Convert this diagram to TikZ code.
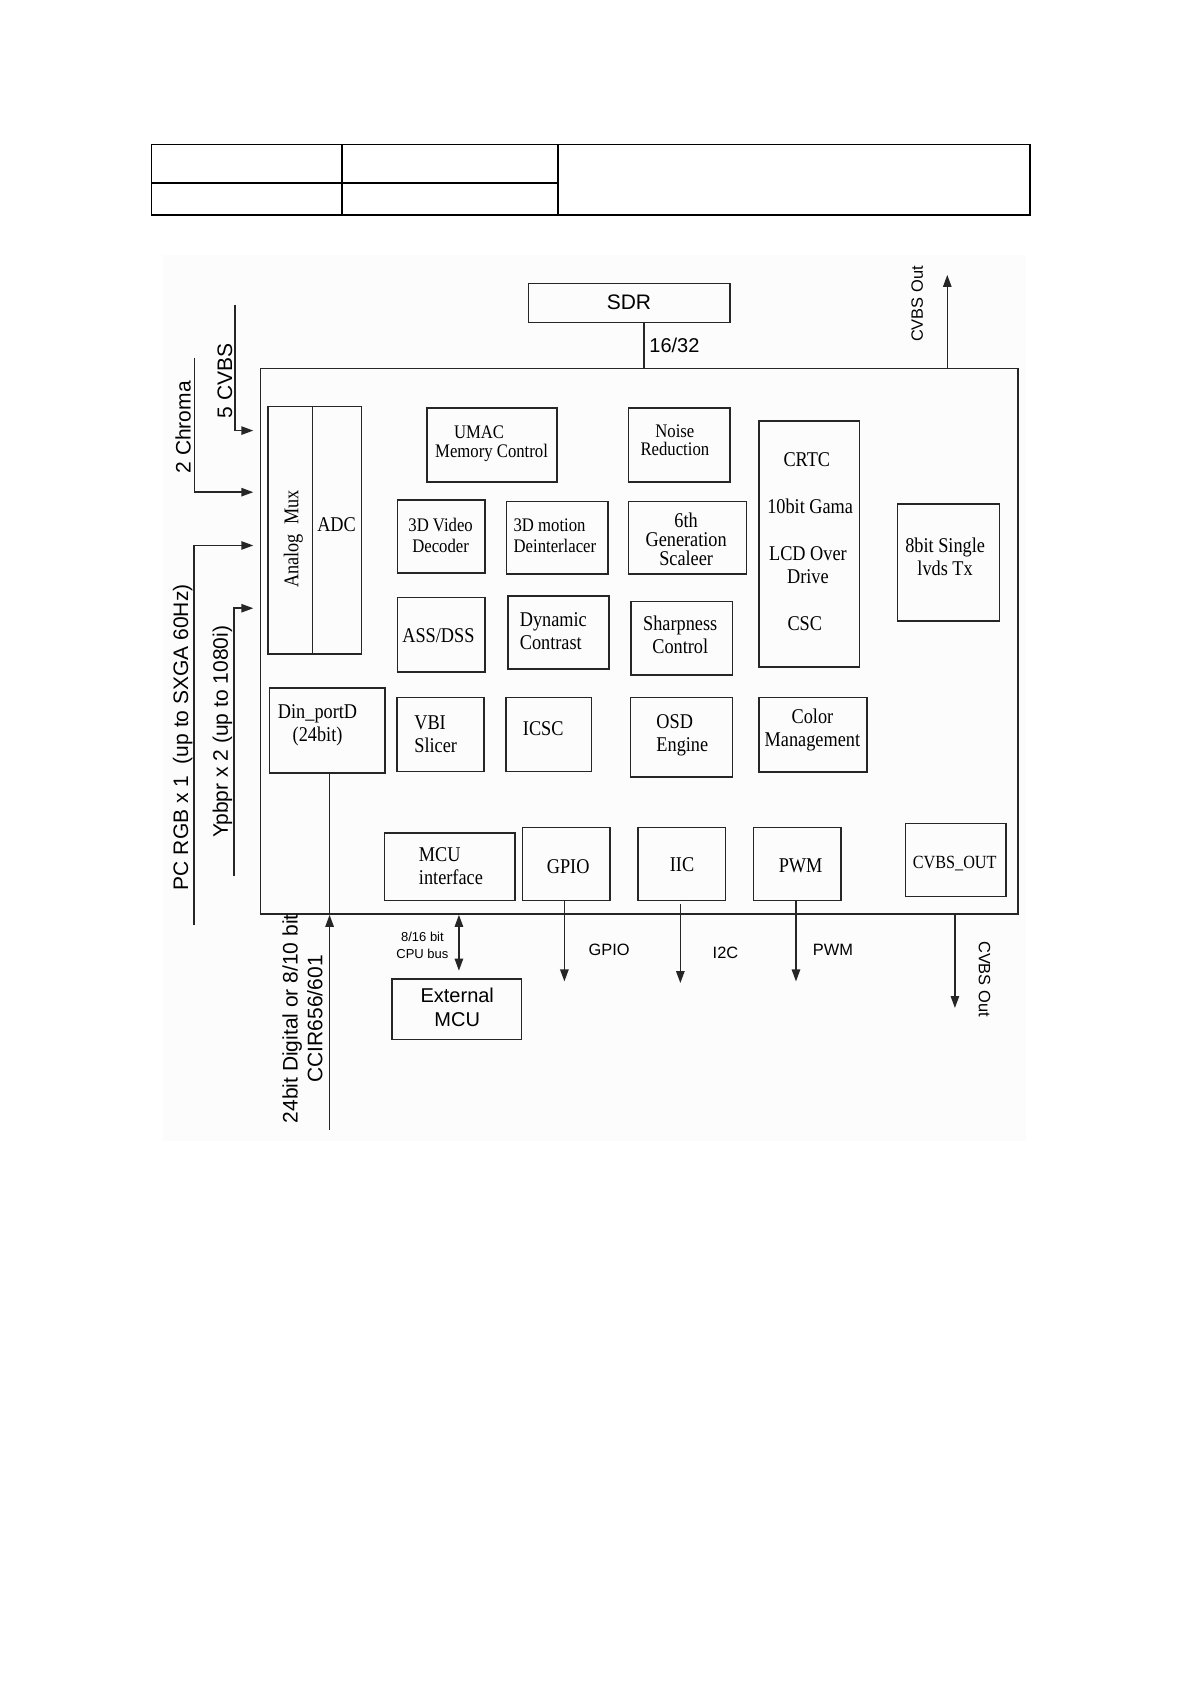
\documentclass[tikz,border=0pt]{standalone}
\usepackage{fontspec}
\setmainfont{Liberation Serif}
\newfontfamily\boxfont[FakeStretch=0.87]{Liberation Serif}
\newfontfamily\labfont{Liberation Sans}
\usetikzlibrary{arrows.meta,fit,calc}
\newcommand\mybox[5]{\node[box, fit={(#2,#3) (#4,#5)}] (#1) {};}
\begin{document}
\begin{tikzpicture}[x=0.5374pt,y=-0.5374pt,
  ln/.style={draw=black!85, line width=0.75pt},
  box/.style={ln, inner sep=0pt, rectangle},
  arr/.style={ln, -{Triangle[length=6pt,width=4.2pt]}},
  darr/.style={ln, {Triangle[length=6pt,width=4.2pt]}-{Triangle[length=6pt,width=4.2pt]}},
  tb/.style={inner sep=0pt, align=center, font=\boxfont\fontsize{10.5}{11.4}\selectfont},
  ts/.style={inner sep=0pt, align=center, font=\boxfont\fontsize{9.6}{10.3}\selectfont},
  sb/.style={inner sep=0pt, align=center, font=\labfont\fontsize{10.5}{12.4}\selectfont},
  sm/.style={inner sep=0pt, align=center, font=\labfont\fontsize{8.2}{9.5}\selectfont},
  sx/.style={inner sep=0pt, align=center, font=\labfont\fontsize{6.5}{8.3}\selectfont},
]
\fill[white] (0,0) rectangle (1108,1568);
\useasboundingbox (0,0) rectangle (1108,1568);
\fill[black!1.2] (151.3,237.2) rectangle (955,1062);

% header table
\draw[black, line width=0.85pt] (141,134.6) rectangle (958.2,200.3);
\draw[black, line width=0.85pt] (318,134.6) -- (318,200.3) (519.2,134.6) -- (519.2,200.3) (141,170.6) -- (519.2,170.6);

% main chip
\mybox{main}{242.5}{343}{947.5}{850.6}

% SDR
\mybox{sdr}{491.9}{263.9}{679.1}{299.9}
\node[sb] (sdrt) at (585.3,281.3) {SDR};
\coordinate (busA) at ($(sdr.south)+(13.8,0)$);
\draw[ln] (busA) -- (busA |- main.north);
\node[sb, font=\labfont\fontsize{10}{12}\selectfont] (bus) at (627.6,321) {16/32};

% CVBS out (top)
\coordinate (cvtop) at (881.5,255.8);
\draw[arr] (cvtop |- main.north) -- (cvtop);
\node[sm, rotate=90] (cvtopl) at (853.6,283) {CVBS Out};

% left inputs
\coordinate (cvbsS) at (218.6,283.7); \coordinate (cvbsE) at (235.7,400.7);
\draw[arr] (cvbsS) |- (cvbsE);
\node[sb, rotate=90] (cvbsl) at (209.3,354.4) {5 CVBS};
\coordinate (chrS) at (180.8,332.7); \coordinate (chrE) at (235.7,458);
\draw[arr] (chrS) |- (chrE);
\node[sb, rotate=90] (chrl) at (170.5,397.7) {2 Chroma};
\coordinate (rgbS) at (180.5,861.2); \coordinate (rgbE) at (235.7,507.6);
\draw[arr] (rgbS) |- (rgbE);
\node[sb, rotate=90] (rgbl) at (170,686) {PC RGB x 1\ \ (up to SXGA 60Hz)};
\coordinate (ypbS) at (217.7,815.6); \coordinate (ypbE) at (235.7,566);
\draw[arr] (ypbS) |- (ypbE);
\node[sb, rotate=90] (ypbl) at (207,681) {Ypbpr x 2 (up to 1080i)};

% analog mux / ADC
\mybox{amux}{249.6}{378.3}{290.6}{608.4}
\mybox{adc}{290.6}{378.3}{336.5}{608.4}
\node[tb, rotate=90] (amuxt) at (273,501.6) {Analog\ \ Mux};
\node[tb] (adct) at (313.2,488.4) {ADC};

% row 1
\mybox{umac}{397.3}{379.9}{518.2}{448.7}
\node[ts] (umacA) at (445.8,402.5) {UMAC};
\node[ts] (umacB) at (457.4,421.7) {Memory Control};
\mybox{nr}{584.9}{379.9}{679.1}{448.7}
\node[ts] (nrt) at (628,409.3) {Noise\\[-1.2pt]Reduction};

% row 2
\mybox{vdec}{369.8}{465.2}{451.2}{533.4}
\node[ts] (vdect) at (410,498.5) {3D Video\\Decoder};
\mybox{deint}{471.4}{466.7}{565.9}{534.3}
\node[ts, align=left, anchor=west] (deintt) at (477.6,498.5) {3D motion\\Deinterlacer};
\mybox{scal}{584.9}{466.7}{694.7}{534.3}
\node[tb, font=\boxfont\fontsize{10.5}{9.6}\selectfont] (scalt) at (638.5,502) {6th\\Generation\\Scaleer};
\mybox{crtc}{706.3}{391.7}{800}{620.8}
\node[tb] (crtcA) at (750.8,428) {CRTC};
\node[tb] (crtcB) at (753.9,471.4) {10bit Gama};
\node[tb, font=\boxfont\fontsize{10.5}{11.66}\selectfont] (crtcC) at (751.8,526) {LCD Over\\Drive};
\node[tb] (crtcD) at (748.9,579.9) {CSC};
\mybox{lvds}{835.3}{469.2}{930.3}{577.7}
\node[tb, font=\boxfont\fontsize{10.5}{11.66}\selectfont] (lvdst) at (879.5,518) {8bit Single\\lvds Tx};

% row 3
\mybox{ass}{369.8}{556}{451.2}{625.5}
\node[tb] (asst) at (408,591.4) {ASS/DSS};
\mybox{dyn}{472.5}{554.5}{566.7}{622.7}
\node[tb, align=left, anchor=west] (dynt) at (483.4,587) {Dynamic\\Contrast};
\mybox{sharp}{587.3}{559.7}{681.8}{628}
\node[tb] (sharpt) at (633,591) {Sharpness\\Control};

% row 4
\mybox{din}{250.6}{640.4}{358.2}{719.4}
\node[tb] (dint) at (295.5,675.2) {Din\_portD\\(24bit)};
\mybox{vbi}{369.6}{649.1}{450.6}{717.9}
\node[tb, align=left, anchor=west] (vbit) at (385.2,683) {VBI\\Slicer};
\mybox{icsc}{470.8}{649.1}{550.4}{717.9}
\node[tb] (icsct) at (505.5,678.2) {ICSC};
\mybox{osd}{586.6}{649.1}{681.4}{723.2}
\node[tb, align=left, anchor=west] (osdt) at (610.5,684) {OSD\\Engine};
\mybox{cm}{706.3}{649.1}{806.6}{718.4}
\node[tb] (cmt) at (756,679) {Color\\Management};

% row 5
\mybox{mcui}{357.6}{775.3}{479.1}{837.9}
\node[tb, align=left, anchor=west] (mcuit) at (389.5,806.2) {MCU\\interface};
\mybox{gpio}{486}{770}{567.5}{837.9}
\node[tb] (gpiot) at (528.7,806.9) {GPIO};
\mybox{iic}{593.7}{770}{675.1}{837.9}
\node[tb] (iict) at (634.7,804.7) {IIC};
\mybox{pwm}{701}{770}{782.7}{837.9}
\node[tb] (pwmt) at (745,805.6) {PWM};
\mybox{cvo}{842.4}{766.3}{935.9}{834.2}
\node[tb, font=\boxfont\fontsize{9.3}{11}\selectfont] (cvot) at (888.4,803.8) {CVBS\_OUT};

% external MCU
\mybox{extmcu}{365}{910.8}{485.3}{967.5}
\node[sb, font=\labfont\fontsize{10}{12}\selectfont] (extt) at (425.5,937.8) {External\\MCU};

% bottom connectors
\coordinate (dinB) at (306.7,1051.3);
\draw[arr] (dinB) -- (dinB |- main.south);
\draw[ln] (dinB |- main.south) -- (dinB |- din.south);
\node[sb, rotate=90] (dinl) at (281.4,948) {24bit Digital or 8/10 bit\\CCIR656/601};

\coordinate (busE) at ($(extmcu.north)+(1.9,-6.8)$);
\draw[darr] (busE |- main.south) -- (busE);
\node[sx] (busl) at (393.1,879.8) {8/16 bit\\CPU bus};

\coordinate (gpioE) at (525.2,913.3);
\draw[arr] (gpioE |- gpio.south) -- (gpioE);
\node[sm] (gpiol) at (566.8,883.8) {GPIO};
\coordinate (iicE) at (633.1,914.8);
\draw[arr] ($(iicE |- iic.south)+(0,2.5)$) -- (iicE);
\node[sm] (iicl) at (675.1,886.3) {I2C};
\coordinate (pwmE) at (740.7,913.3);
\draw[arr] (pwmE |- pwm.south) -- (pwmE);
\node[sm] (pwml) at (775.1,883.8) {PWM};
\coordinate (cvbE) at (888.6,938);
\draw[arr] (cvbE |- main.south) -- (cvbE);
\node[sm, rotate=-90] (cvbl) at (916.2,911) {CVBS Out};
\end{tikzpicture}
\end{document}
